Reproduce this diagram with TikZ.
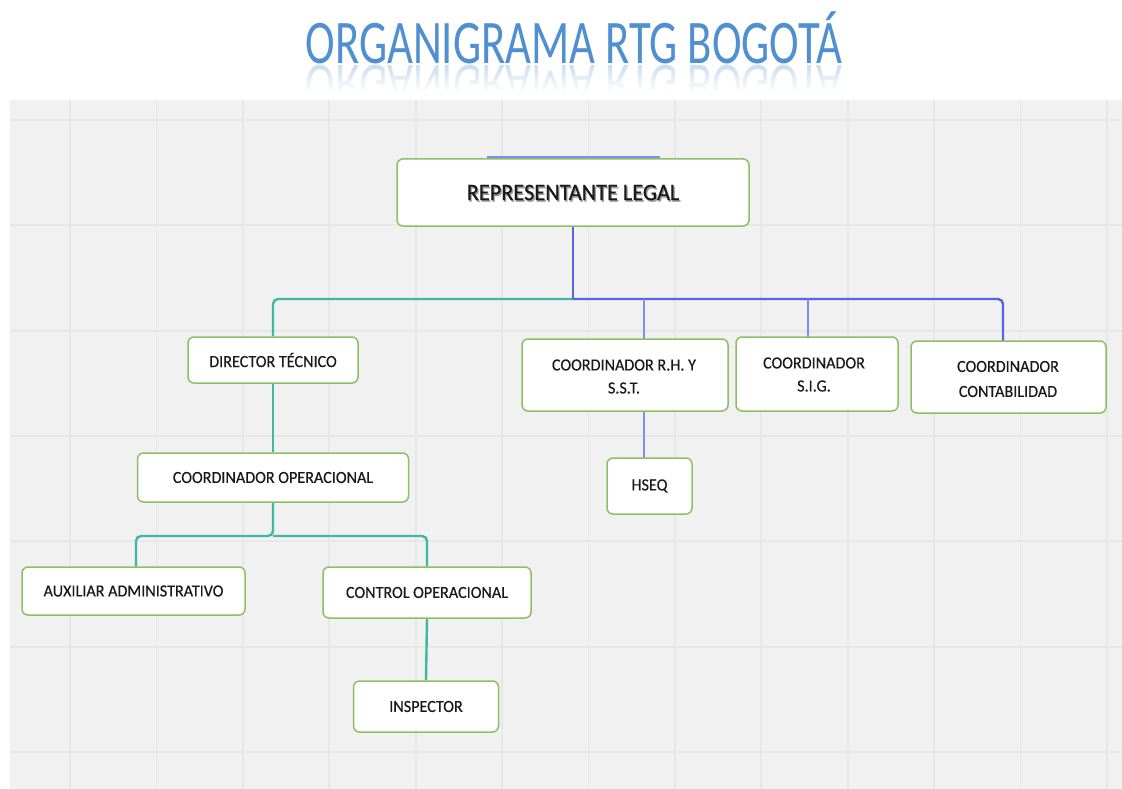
\documentclass[tikz,border=0pt]{standalone}
\usepackage{fontspec}
\newfontfamily\boxfont[FakeStretch=0.95,FakeBold=0.4]{Carlito}
\newfontfamily\titlefont[FakeStretch=0.72]{Carlito}
\usetikzlibrary{fadings}
\pgfdeclarelayer{bg}
\pgfdeclarelayer{lines}
\pgfsetlayers{bg,lines,main}
\definecolor{bgray}{RGB}{241,241,241}
\definecolor{gridc}{RGB}{231,231,231}
\definecolor{boxg}{RGB}{141,192,99}
\definecolor{tealc}{RGB}{62,184,158}
\definecolor{bluec}{RGB}{84,102,226}
\definecolor{lblue}{RGB}{128,140,238}
\definecolor{titlec}{RGB}{80,144,208}
\definecolor{txt}{RGB}{25,25,25}
\tikzset{
  orgbox/.style={draw=boxg, line width=1.5pt, fill=white, rounded corners=6pt,
     align=center, text=txt, font=\boxfont\fontsize{17}{22}\selectfont, inner sep=0pt},
  boxtext/.style={text=txt, font=\boxfont\fontsize{17}{23}\selectfont, align=center, inner sep=0pt, anchor=center},
  tealline/.style={draw=tealc, line width=2.4pt, rounded corners=5pt},
  blueline/.style={draw=bluec, line width=2.4pt, rounded corners=5pt},
  lblueline/.style={draw=lblue, line width=2.2pt, rounded corners=5pt},
  titlestyle/.style={text=titlec, font=\titlefont\fontsize{62}{62}\selectfont, anchor=base, inner sep=0pt},
}
\begin{document}
\begin{tikzpicture}[x=1pt,y=-1pt]
\useasboundingbox (0,0) rectangle (1122,789);
\begin{pgfonlayer}{bg}
\fill[white] (0,0) rectangle (1122,789);
\fill[bgray] (10,100) rectangle (1122,789);
\foreach \gx in {70,156.4,242.8,329.2,415.6,502,588.4,674.8,761.2,847.6,934,1020.4,1106.8}
  \draw[gridc, line width=1.8pt] (\gx,100) -- (\gx,789);
\foreach \gy in {120,225.3,330.6,436,541.3,646.6,752}
  \draw[gridc, line width=1.8pt] (10,\gy) -- (1122,\gy);
\end{pgfonlayer}
% title with reflection
\node[titlestyle] (title) at (574,64) {ORGANIGRAMA RTG BOGOTÁ};
\begin{scope}
  \clip (250,65) rectangle (900,98);
  \node[titlestyle, opacity=0.3, yscale=-1] (titlerefl) at (574,66) {ORGANIGRAMA RTG BOGOTÁ};
  \fill[white, path fading=north] (250,64) rectangle (900,92);
  \fill[white] (250,92) rectangle (900,98);
\end{scope}
% nodes
\node[orgbox, minimum width=352pt, minimum height=67pt] (rep) at (573,192.5) {};
\node[text=black!40, font=\boxfont\fontsize{23.5}{26}\selectfont, inner sep=0pt] (repshadow) at (574.3,194.2) {REPRESENTANTE LEGAL};
\node[text=txt, font=\boxfont\fontsize{23.5}{26}\selectfont, inner sep=0pt] (reptext) at (573,192.5) {REPRESENTANTE LEGAL};
\node[orgbox, minimum width=170pt, minimum height=46pt] (dir) at (273,360) {DIRECTOR TÉCNICO};
\node[orgbox, minimum width=271pt, minimum height=49pt] (cop) at (273,477.5) {COORDINADOR OPERACIONAL};
\node[orgbox, minimum width=223pt, minimum height=48pt] (aux) at (133.5,591) {AUXILIAR ADMINISTRATIVO};
\node[orgbox, minimum width=208pt, minimum height=51pt] (ctl) at (427,592.5) {CONTROL OPERACIONAL};
\node[orgbox, minimum width=145pt, minimum height=51pt] (ins) at (426,706.5) {INSPECTOR};
\node[orgbox, minimum width=206pt, minimum height=72pt] (rh) at (625,375) {};
\node[boxtext] (rhtext) at (624,376.5) {COORDINADOR R.H. Y\\S.S.T.};
\node[orgbox, minimum width=162pt, minimum height=74pt] (sig) at (817,374) {};
\node[boxtext] (sigtext) at (814,374.5) {COORDINADOR\\S.I.G.};
\node[orgbox, minimum width=195pt, minimum height=72pt] (con) at (1008.5,377) {};
\node[boxtext] (context) at (1008,379) {COORDINADOR\\[2pt]CONTABILIDAD};
\node[orgbox, minimum width=85pt, minimum height=56pt] (hseq) at (649.5,486) {HSEQ};
% connectors
\coordinate (jr) at (573,299);
\coordinate (peekA) at (487,157.5);
\coordinate (peekB) at (660,157.5);
\coordinate (rhtop) at (644,339);
\coordinate (rhbot) at (644,411);
\coordinate (hseqtop) at (644,458);
\coordinate (sigtop) at (808,337);
\coordinate (contop) at (1003,341);
\coordinate (jo) at (273,536);
\coordinate (auxtop) at (136,567);
\begin{pgfonlayer}{lines}
\draw[lblueline] (peekA) -- (peekB);
\draw[tealline] (jr) -| (dir.north);
\draw[blueline] (rep.south) -- (jr);
\draw[blueline] (jr) -| (contop);
\draw[lblueline] (rhtop |- jr) -- (rhtop);
\draw[lblueline] (sigtop |- jr) -- (sigtop);
\draw[tealline] (dir.south) -- (cop.north);
\draw[tealline] (cop.south) -- (jo) -| (auxtop);
\draw[tealline] (jo) -| (ctl.north);
\draw[tealline] (ctl.south) -- (ins.north);
\draw[lblueline] (rhbot) -- (hseqtop);
\end{pgfonlayer}
\end{tikzpicture}
\end{document}
